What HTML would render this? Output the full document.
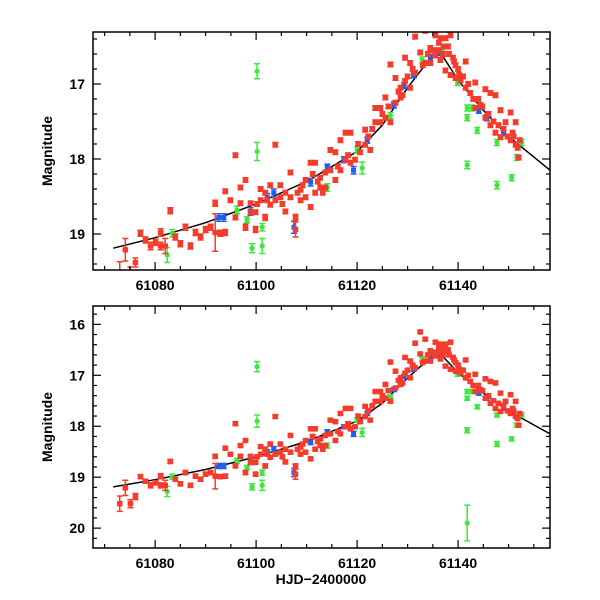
<!DOCTYPE html>
<html><head><meta charset="utf-8"><style>
html,body{margin:0;padding:0;background:#fff;width:600px;height:600px;overflow:hidden}
text{font-family:"Liberation Sans",sans-serif;font-weight:bold;fill:#000}
</style></head><body>
<svg id="chart" width="600" height="600" xmlns="http://www.w3.org/2000/svg"></svg>
<script>
// [day offset from 61000, magnitude, error]
const redPts = [[73.0,19.52,.15],[74.1,19.21,.15],[75.1,19.52,.08],[76.1,19.38,.06],[77.1,18.99,.04],[78.1,19.08,.04],[79.1,19.16,.05],[80.1,19.11,.04],[81.1,18.98,.05],[81.1,19.16,.05],[82.0,19.16,.1],[83.0,18.69,.04],[84.0,19.04,.04],[85.0,19.13,.04],[86.0,18.91,.04],[87.0,19.16,.04],[88.0,18.98,.04],[89.0,19.04,.04],[90.0,18.94,.04],[91.0,18.91,.04],[91.9,18.59,.04],[91.9,18.98,.25],[92.9,18.99,.04],[93.9,18.98,.04],[93.9,18.43,.03],[94.9,18.55,.03],[95.9,17.95,.03],[95.9,18.78,.03],[96.9,18.38,.03],[96.9,18.59,.03],[97.9,18.28,.03],[97.9,18.91,.04],[98.9,18.71,.03],[98.9,18.59,.03],[99.9,18.94,.04],[99.9,18.71,.03],[100.9,18.40,.03],[100.9,18.55,.03],[101.8,18.78,.04],[101.8,18.45,.03],[102.8,18.61,.03],[102.8,18.35,.03],[103.8,17.81,.03],[103.8,18.55,.03],[104.8,18.35,.03],[104.8,18.51,.03],[105.8,18.70,.03],[105.8,18.45,.03],[106.8,18.18,.03],[106.8,18.51,.03],[107.8,18.94,.1],[107.8,18.78,.04],[108.8,18.41,.03],[108.8,18.55,.03],[109.8,18.28,.03],[109.8,18.51,.03],[110.8,18.64,.03],[110.8,18.05,.03],[111.7,18.05,.03],[111.7,18.45,.03],[112.7,18.25,.03],[112.7,18.38,.03],[113.7,18.18,.03],[113.7,18.38,.03],[114.7,17.88,.03],[114.7,18.15,.03],[115.7,17.91,.03],[115.7,18.28,.03],[116.7,17.75,.03],[116.7,18.15,.03],[117.7,17.65,.03],[117.7,18.01,.03],[118.7,17.65,.03],[118.7,18.05,.03],[119.6,18.01,.03],[120.6,17.91,.03],[121.6,17.61,.03],[121.6,17.81,.03],[122.6,17.88,.03],[123.6,17.32,.03],[123.6,17.51,.03],[124.6,17.32,.03],[124.6,17.51,.03],[125.6,17.18,.03],[125.6,17.45,.03],[126.6,16.74,.03],[126.6,17.51,.03],[127.6,16.92,.03],[127.6,17.25,.03],[128.6,17.05,.03],[128.6,17.18,.03],[129.5,16.65,.03],[129.5,16.96,.03],[130.5,16.72,.03],[130.5,17.05,.03],[131.5,16.37,.03],[131.5,16.85,.03],[132.5,16.15,.03],[132.5,16.58,.03],[133.5,16.29,.03],[133.5,16.72,.03],[134.5,16.52,.03],[134.5,16.72,.03],[135.5,16.35,.03],[135.5,16.62,.03],[136.5,16.39,.03],[136.5,16.68,.03],[137.5,16.39,.03],[137.5,16.82,.03],[138.5,16.35,.03],[138.5,16.88,.03],[139.5,16.75,.03],[139.5,16.92,.03],[140.5,16.95,.03],[141.5,16.70,.03],[141.5,17.05,.03],[142.4,17.12,.03],[143.4,16.98,.03],[143.4,17.32,.03],[144.4,17.28,.03],[145.4,17.07,.03],[145.4,17.45,.03],[146.4,17.12,.03],[146.4,17.55,.03],[147.4,17.15,.03],[147.4,17.65,.03],[148.4,17.35,.03],[148.4,17.71,.03],[149.4,17.51,.03],[150.4,17.38,.03],[150.4,17.75,.03],[151.4,17.51,.03],[151.4,17.81,.03],[152.0,17.98,.03],[136.0,16.55,.03],[137.0,16.6,.03],[138.0,16.5,.03],[139.0,16.65,.03],[134.0,16.6,.03],[140.0,16.8,.03],[144.0,17.2,.03],[149.0,17.6,.03],[151.0,17.7,.03],
[111.2,18.2,.03],[112.2,18.3,.03],[113.2,18.45,.03],[116.2,18.1,.03],[118.2,17.95,.03],[120.2,17.8,.03],[122.2,17.7,.03],[123.0,17.6,.03],[125.0,17.4,.03],[126.2,17.3,.03],[128.2,17.1,.03],[129.0,17.15,.03],[130.0,16.9,.03],[131.0,16.8,.03],[133.0,16.75,.03],[135.0,16.55,.03],[136.2,16.45,.03],[137.2,16.5,.03],[138.2,16.6,.03],[139.2,16.7,.03],[140.2,16.88,.03],[141.0,16.9,.03],[142.0,17.0,.03],[143.0,17.2,.03],[144.8,17.3,.03],[146.0,17.4,.03],[147.0,17.5,.03],[148.0,17.55,.03],[149.8,17.7,.03],[150.8,17.65,.03],[151.8,17.85,.03],[152.2,17.75,.03],[105.2,18.6,.03],[108.2,18.45,.03],[109.2,18.35,.03],[102.2,18.55,.03],[100.2,18.6,.03]];
const bluePts = [[92.6,18.78,.05],[93.6,18.78,.05],[98.9,18.70,.05],[102.2,18.51,.05],[103.5,18.45,.05],[107.5,18.91,.08],[110.8,18.31,.05],[114.1,18.11,.04],[117.4,18.01,.04],[119.3,18.15,.05],[122.0,17.75,.04],[127.3,17.28,.04],[129.3,17.02,.04],[131.2,16.88,.04],[134.5,16.65,.04],[136.2,16.58,.04],[144.1,17.35,.04],[145.7,17.45,.04],[149.0,17.65,.04]];
const greenPts = [[82.4,19.28,.1],[83.4,18.99,.05],[96.2,18.68,.05],[98.2,18.81,.04],[99.2,19.19,.06],[100.2,16.83,.1],[100.2,17.90,.12],[101.2,19.16,.1],[101.2,18.91,.05],[114.1,18.38,.05],[120.0,17.88,.04],[121.0,18.12,.08],[126.6,17.42,.04],[132.9,16.68,.04],[136.9,16.52,.04],[139.9,16.98,.04],[141.8,17.32,.04],[141.8,17.45,.04],[141.8,18.08,.05],[142.8,17.32,.04],[143.8,17.62,.04],[147.7,17.78,.04],[147.7,18.35,.05],[150.6,18.25,.04],[151.6,17.98,.04],[152.6,17.78,.04]];
const greenBottomOnly = [[141.8,19.9,.35]];
const fitDays = [71.7,80,90,100,110,120,125,130,134,136.5,140,145,150,158.2];
const fitMags = [19.19,19.05,18.85,18.6,18.3,17.9,17.55,17.05,16.7,16.58,16.95,17.35,17.7,18.15];
const xTicks = [61080,61100,61120,61140];
const yTicksTop = [17,18,19];
const yTicksBot = [16,17,18,19,20];

const svg = document.getElementById('chart');
const NS = 'http://www.w3.org/2000/svg';
function mk(tag, attrs, parent){const e=document.createElementNS(NS,tag);for(const k in attrs)e.setAttribute(k,attrs[k]);(parent||svg).appendChild(e);return e;}
const X0=93,X1=550,D0=61067.7,D1=61158.2;
const xs = d => X0+(d-D0)/(D1-D0)*(X1-X0);

function panel(name, top, bot, m0, m1, yTicks, showXLabels, extraGreen){
  const g = mk('g',{});
  
  
  const ys = m => top+(m-m0)/(m1-m0)*(bot-top);
  const cid='clip-'+name;
  const cp=mk('clipPath',{id:cid},g); mk('rect',{x:X0,y:top,width:X1-X0,height:bot-top},cp);
  const data=mk('g',{'clip-path':'url(#'+cid+')'},g);
  function errbar(p,col){
    const x=xs(61000+p[0]),y1=ys(p[1]-p[2]),y2=ys(p[1]+p[2]);
    mk('line',{x1:x,x2:x,y1:y1,y2:y2,stroke:col,'stroke-width':1.5},data);
    mk('line',{x1:x-3,x2:x+3,y1:y1,y2:y1,stroke:col,'stroke-width':1.5},data);
    mk('line',{x1:x-3,x2:x+3,y1:y2,y2:y2,stroke:col,'stroke-width':1.5},data);
  }
  let d='';
  fitDays.forEach((dd,i)=>{d+=(i?'L':'M')+xs(61000+dd).toFixed(1)+','+ys(fitMags[i]).toFixed(1);});
  const fl=mk('path',{d:d,fill:'none',stroke:'#000','stroke-width':1.5},data);
  
  
  const greens = extraGreen ? greenPts.concat(greenBottomOnly) : greenPts;
  greens.forEach(p=>{errbar(p,'#3de83d');const c=mk('circle',{cx:xs(61000+p[0]),cy:ys(p[1]),r:2.6,fill:'#3de83d'},data);
    
    });
  bluePts.forEach(p=>{errbar(p,'#1f5ff0');const c=mk('rect',{x:xs(61000+p[0])-2.5,y:ys(p[1])-2.5,width:5,height:5,fill:'#1f5ff0'},data);
    
    });
  redPts.forEach(p=>{errbar(p,'#f43c2c');const c=mk('rect',{x:xs(61000+p[0])-2.8,y:ys(p[1])-2.8,width:5.6,height:5.6,rx:1,fill:'#f43c2c'},data);
    
    });
  mk('rect',{x:X0,y:top,width:X1-X0,height:bot-top,fill:'none',stroke:'#000','stroke-width':1.5},g);
  for(let d=61070; d<=61155; d+=5){
    const x=xs(d), major=(d%20===0), L=major?8:4;
    mk('line',{x1:x,x2:x,y1:bot,y2:bot-L,stroke:'#000','stroke-width':1.2},g);
    mk('line',{x1:x,x2:x,y1:top,y2:top+L,stroke:'#000','stroke-width':1.2},g);
  }
  xTicks.forEach(t=>{ if(showXLabels){const tx=mk('text',{x:xs(t),y:bot+20,'text-anchor':'middle','font-size':14},g);tx.textContent=t;
    
    }});
  for(let k=Math.ceil(m0*5);k<=Math.floor(m1*5);k++){
    const m=k/5,y=ys(m),major=(k%5===0),L=major?8:4;
    mk('line',{x1:X0,x2:X0+L,y1:y,y2:y,stroke:'#000','stroke-width':1.2},g);
    mk('line',{x1:X1,x2:X1-L,y1:y,y2:y,stroke:'#000','stroke-width':1.2},g);
  }
  yTicks.forEach(t=>{const tx=mk('text',{x:X0-8,y:ys(t)+5,'text-anchor':'end','font-size':14},g);tx.textContent=t;
    
    });
  const yl=mk('text',{x:0,y:0,transform:'translate(52,'+((top+bot)/2)+') rotate(-90)','text-anchor':'middle','font-size':14},g);
  yl.textContent='Magnitude';
  
  
}
panel('top-panel',32,270,16.307,19.48,yTicksTop,true,false);
panel('bottom-panel',306,548,15.64,20.39,yTicksBot,true,true);
const xl=mk('text',{x:321,y:584,'text-anchor':'middle','font-size':14});
xl.textContent='HJD\u22122400000';


</script>
</body></html>
